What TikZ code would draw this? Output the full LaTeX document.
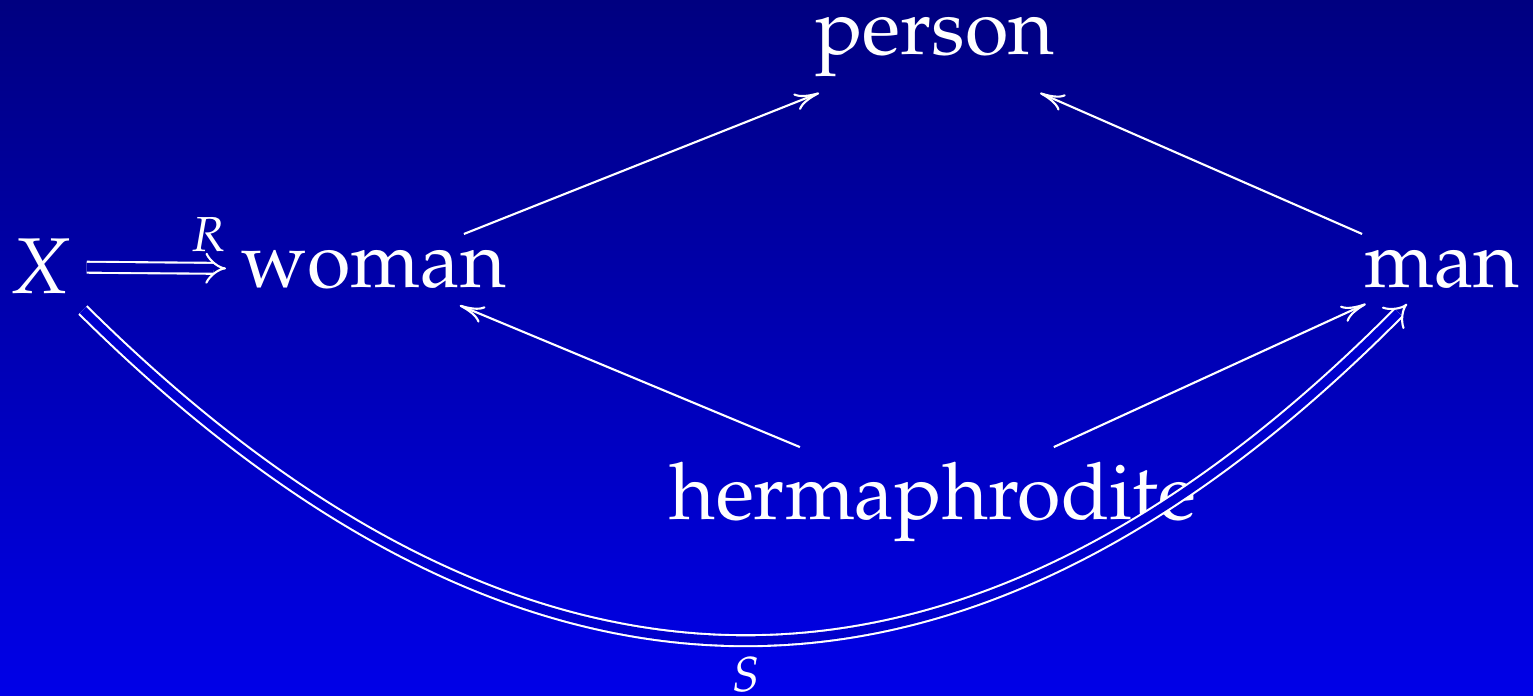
\documentclass[tikz,border=0pt]{standalone}
\usepackage[T1]{fontenc}
\usepackage{mathpazo}
\usepackage{tikz}
\usetikzlibrary{arrows.meta}
\definecolor{topblue}{RGB}{0,0,128}
\definecolor{botblue}{RGB}{0,0,232}
\definecolor{midblue}{RGB}{0,0,170}
\definecolor{lowblue}{RGB}{0,0,205}
\tikzset{
  obj/.style={text=white,inner sep=0.15cm,anchor=base,font=\fontsize{22.5}{27}\selectfont},
  lbl/.style={text=white,inner sep=0.15cm,font=\fontsize{14}{16}\selectfont},
  arr/.style={draw=white,line width=0.6pt,-{To[length=7pt,width=5pt]}},
  dbl/.style={draw=white,line width=0.6pt,double distance=2.5pt,-{Implies[length=6pt]}}
}
\begin{document}
\begin{tikzpicture}
  \shade [top color=topblue,bottom color=botblue] (0,0) rectangle (15.33,6.96);
  \useasboundingbox (0,0) rectangle (15.33,6.96);
  \node [obj] (X) at (0.40,4.02) {$X$};
  \node [obj] (W) at (3.74,4.08) {woman};
  \node [obj] (P) at (9.35,6.41) {person};
  \node [obj] (M) at (14.42,4.08) {man};
  \node [obj] (H) at (9.33,1.76) {hermaphrodite};
  \draw [arr] (W) to (P);
  \draw [arr] (M) to (P);
  \draw [arr] (H) to (W);
  \draw [arr] (H) to (M);
  \draw [dbl,double=midblue] (X) to node [lbl,above,pos=.87] (R) {$R$} (W);
  \draw [dbl,double=lowblue] (X) to [bend right=45,looseness=1.21] node [lbl,below=0.01cm] (S) {$S$} (M);
\end{tikzpicture}
\end{document}
